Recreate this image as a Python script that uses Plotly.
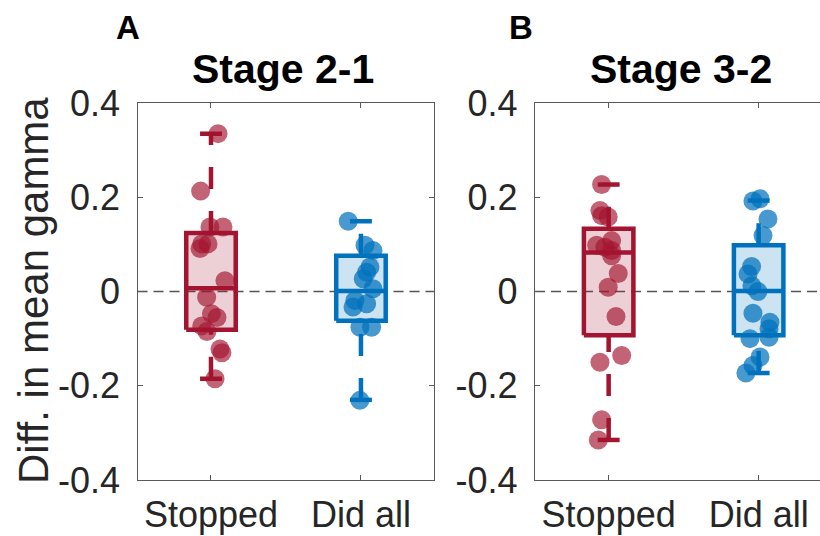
import plotly.graph_objects as go

# ---------------- data ----------------
categories = ["Stopped", "Did all"]
ytick_vals = [0.4, 0.2, 0, -0.2, -0.4]
ytick_text = ["0.4", "0.2", "0", "-0.2", "-0.4"]
panel_titles = ["Stage 2-1", "Stage 3-2"]
panel_letters = ["A", "B"]

# Stage 2-1
a_stop_vals = [0.335, 0.213, 0.137, 0.137, 0.101, 0.101, 0.091, 0.023, -0.012, -0.047,
               -0.055, -0.073, -0.085, -0.122, -0.130, -0.185]
a_stop_jit = [0.047, -0.069, -0.007, 0.080, -0.062, -0.020, -0.073, 0.093, -0.029, 0.003,
              0.040, -0.062, -0.027, 0.060, 0.073, 0.027]
a_all_vals = [0.149, 0.098, 0.087, 0.052, 0.041, 0.027, 0.006, -0.019, -0.026, -0.033,
              -0.076, -0.076, -0.231]
a_all_jit = [-0.085, 0.027, 0.080, 0.060, 0.038, 0.015, 0.080, -0.040, 0.038, -0.053,
             -0.007, 0.071, -0.007]
# box stats: [lower whisker, q1, median, q3, upper whisker]
a_stop_box = [-0.185, -0.081, 0.007, 0.124, 0.335]
a_all_box = [-0.230, -0.062, 0.001, 0.076, 0.149]

# Stage 3-2
b_stop_vals = [0.227, 0.172, 0.161, 0.158, 0.108, 0.098, 0.094, 0.087, 0.076, 0.038,
               0.009, -0.053, -0.136, -0.150, -0.272, -0.315]
b_stop_jit = [-0.047, -0.058, -0.047, -0.003, 0.020, -0.080, -0.025, 0.020, 0.020, 0.064,
              -0.003, 0.049, 0.087, -0.058, -0.047, -0.069]
b_all_vals = [0.197, 0.192, 0.154, 0.119, 0.053, 0.037, 0.012, 0.000, -0.046, -0.065,
              -0.079, -0.097, -0.100, -0.139, -0.157, -0.173]
b_all_jit = [0.009, -0.038, 0.062, 0.029, -0.047, -0.071, -0.045, -0.005, -0.038, 0.075,
             0.069, 0.069, -0.058, 0.009, -0.038, -0.085]
b_stop_box = [-0.315, -0.093, 0.083, 0.133, 0.227]
b_all_box = [-0.173, -0.093, 0.001, 0.098, 0.193]

RED = "rgb(162,20,47)"
BLUE = "rgb(0,114,189)"
RED_DOT = "rgba(162,20,47,0.66)"
BLUE_DOT = "rgba(0,114,189,0.72)"
RED_FILL = "rgba(162,20,47,0.20)"
BLUE_FILL = "rgba(0,114,189,0.20)"

FONT = "Liberation Sans, Arial, sans-serif"
TXT = "#262626"
AX = "#5a5a5a"

fig = go.Figure()

BOX_HW = 0.165
CAP_HW = 0.073
LW = 4.5


def add_group(xa, ya, pos, vals, jit, box, col, dotcol, fillcol):
    lo, q1, med, q3, hi = box
    fig.add_trace(go.Scatter(
        x=[pos - BOX_HW, pos + BOX_HW, pos + BOX_HW, pos - BOX_HW, pos - BOX_HW],
        y=[q1, q1, q3, q3, q1], mode="lines", fill="toself", fillcolor=fillcol,
        line=dict(color=col, width=LW), xaxis=xa, yaxis=ya, hoverinfo="skip",
        showlegend=False))
    fig.add_trace(go.Scatter(
        x=[pos - BOX_HW, pos + BOX_HW], y=[med, med], mode="lines",
        line=dict(color=col, width=LW), xaxis=xa, yaxis=ya, hoverinfo="skip",
        showlegend=False))
    for y0, y1 in [(lo, q1), (q3, hi)]:
        fig.add_trace(go.Scatter(
            x=[pos, pos], y=[y0, y1], mode="lines",
            line=dict(color=col, width=LW, dash="22px,22px"), xaxis=xa, yaxis=ya,
            hoverinfo="skip", showlegend=False))
    for yc in [lo, hi]:
        fig.add_trace(go.Scatter(
            x=[pos - CAP_HW, pos + CAP_HW], y=[yc, yc], mode="lines",
            line=dict(color=col, width=LW), xaxis=xa, yaxis=ya, hoverinfo="skip",
            showlegend=False))
    fig.add_trace(go.Scatter(
        x=[pos + j for j in jit], y=vals, mode="markers",
        marker=dict(size=19, color=dotcol, line=dict(width=0)),
        xaxis=xa, yaxis=ya, hoverinfo="skip", showlegend=False))


XR1 = [0.51, 2.487]
XR2 = [0.509, 2.409]
for xa, ya, xr in [("x", "y", XR1), ("x2", "y2", XR2)]:
    fig.add_trace(go.Scatter(
        x=xr, y=[0, 0], mode="lines",
        line=dict(color="#555555", width=1.3, dash="10px,6px"),
        xaxis=xa, yaxis=ya, hoverinfo="skip", showlegend=False))

add_group("x", "y", 1, a_stop_vals, a_stop_jit, a_stop_box, RED, RED_DOT, RED_FILL)
add_group("x", "y", 2, a_all_vals, a_all_jit, a_all_box, BLUE, BLUE_DOT, BLUE_FILL)
add_group("x2", "y2", 1, b_stop_vals, b_stop_jit, b_stop_box, RED, RED_DOT, RED_FILL)
add_group("x2", "y2", 2, b_all_vals, b_all_jit, b_all_box, BLUE, BLUE_DOT, BLUE_FILL)

W, H = 820, 536
y_dom = [(H - 480) / H, (H - 103) / H]

common_x = dict(tickmode="array", tickvals=[1, 2], ticktext=categories,
                ticks="inside", ticklen=5, tickcolor=AX, showline=True,
                linecolor=AX, linewidth=1.3, showgrid=False, zeroline=False,
                automargin=False, ticklabelstandoff=3,
                tickfont=dict(family=FONT, size=36, color=TXT), mirror="ticks")
common_y = dict(tickmode="array", tickvals=ytick_vals, ticktext=ytick_text,
                range=[-0.4, 0.4], ticks="inside", ticklen=5, tickcolor=AX,
                showline=True, linecolor=AX, linewidth=1.3, showgrid=False,
                zeroline=False, automargin=False, ticklabelstandoff=9,
                tickfont=dict(family=FONT, size=36, color=TXT))

fig.update_layout(
    width=W, height=H, margin=dict(l=0, r=0, t=0, b=0, autoexpand=False),
    paper_bgcolor="white", plot_bgcolor="white",
    xaxis=dict(domain=[137.5 / W, 434 / W], range=XR1, anchor="y", **common_x),
    yaxis=dict(domain=y_dom, anchor="x", mirror="ticks", **common_y),
    xaxis2=dict(domain=[535 / W, 1.0], range=XR2, anchor="y2", **common_x),
    yaxis2=dict(domain=y_dom, anchor="x2", mirror=False, **common_y),
    showlegend=False,
)

annotations = [
    dict(text="<b>" + panel_titles[0] + "</b>", x=283 / W, y=(H - 94) / H, xref="paper",
         yref="paper", xanchor="center", yanchor="bottom", showarrow=False,
         font=dict(family=FONT, size=41, color="black")),
    dict(text="<b>" + panel_titles[1] + "</b>", x=681 / W, y=(H - 94) / H, xref="paper",
         yref="paper", xanchor="center", yanchor="bottom", showarrow=False,
         font=dict(family=FONT, size=41, color="black")),
    dict(text="<b>" + panel_letters[0] + "</b>", x=127.5 / W, y=(H - 27) / H, xref="paper",
         yref="paper", xanchor="center", yanchor="middle", showarrow=False,
         font=dict(family=FONT, size=33, color="black")),
    dict(text="<b>" + panel_letters[1] + "</b>", x=521 / W, y=(H - 27) / H, xref="paper",
         yref="paper", xanchor="center", yanchor="middle", showarrow=False,
         font=dict(family=FONT, size=33, color="black")),
    dict(text="Diff. in mean gamma", x=33 / W, y=(H - 291) / H, xref="paper",
         yref="paper", xanchor="center", yanchor="middle", textangle=-90,
         showarrow=False, font=dict(family=FONT, size=42, color=TXT)),
]
fig.update_layout(annotations=annotations)

fig.write_html("out.html")
